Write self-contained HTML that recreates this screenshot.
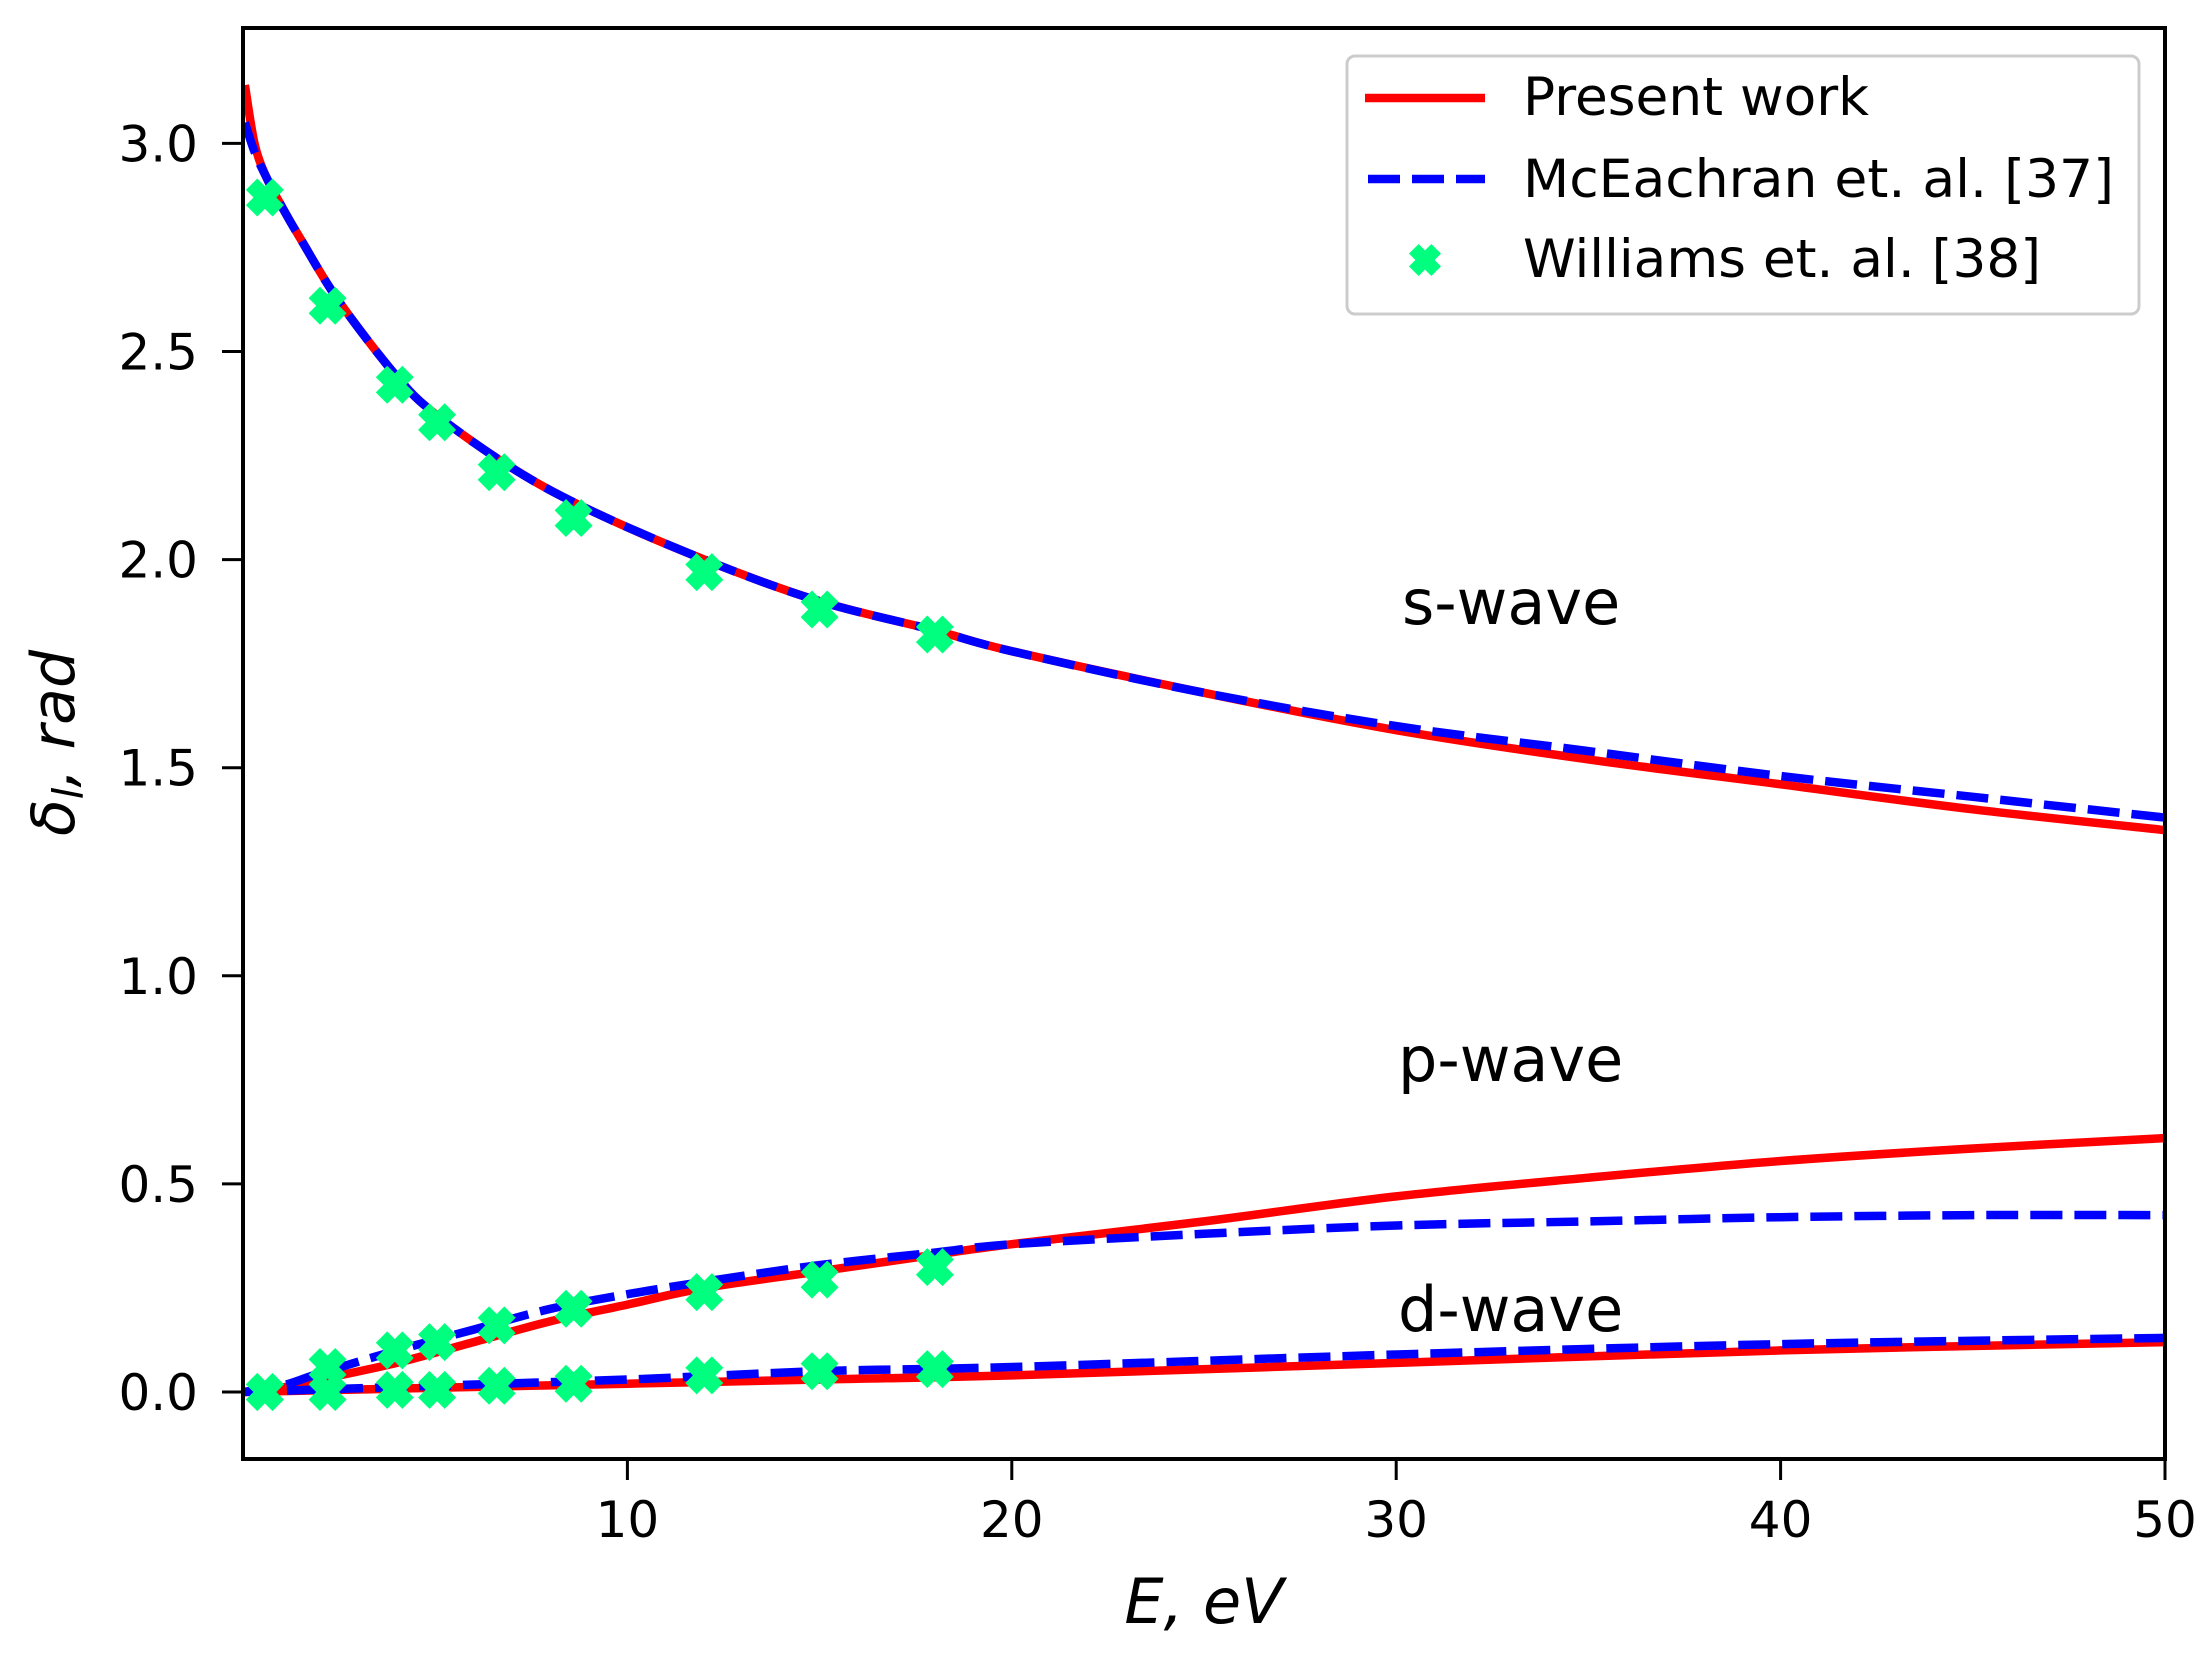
<!DOCTYPE html>
<html><head><meta charset="utf-8"><style>
html,body{margin:0;padding:0;background:#fff;}
svg{display:block;}
text{font-family:"DejaVu Sans","Liberation Sans",sans-serif;fill:#000;}
</style></head><body>
<svg id="chart" width="2211" height="1662" viewBox="0 0 2211 1662">
<rect x="0" y="0" width="2211" height="1662" fill="#fff"/>
<g id="plot"></g>
<g id="axes"></g>
<text x="1402" y="624" font-size="62">s-wave</text>
<text x="1398" y="1081" font-size="62">p-wave</text>
<text x="1398" y="1331" font-size="62">d-wave</text>
<text x="1204" y="1623" font-size="62" font-style="italic" text-anchor="middle">E, eV</text>
<text transform="translate(74,743) rotate(-90)" font-size="60" font-style="italic" text-anchor="middle">δ<tspan font-size="42" dy="9">l</tspan><tspan dy="-9">, rad</tspan></text>
<g>
<rect x="1347" y="56" width="792" height="258" rx="8" fill="#fff" stroke="#ccc" stroke-width="3"/>
<line x1="1365" y1="98" x2="1485" y2="98" stroke="#ff0000" stroke-width="8.5"/>
<text x="1523" y="115" font-size="53" textLength="346" lengthAdjust="spacingAndGlyphs">Present work</text>
<line x1="1368" y1="179" x2="1485" y2="179" stroke="#0000ff" stroke-width="8.5" stroke-dasharray="32,12"/>
<text x="1523" y="197" font-size="53" textLength="591" lengthAdjust="spacingAndGlyphs">McEachran et. al. [37]</text>
<g id="legmark"></g>
<text x="1523" y="277" font-size="53" textLength="518" lengthAdjust="spacingAndGlyphs">Williams et. al. [38]</text>
</g>
</svg>
<script>
const ticksX = [10, 20, 30, 40, 50];
const ticksY = [0.0, 0.5, 1.0, 1.5, 2.0, 2.5, 3.0];
const sE = [0.05, 0.3, 0.6, 1, 1.5, 2.5, 4, 5, 7, 9, 12, 15, 18, 20, 25, 30, 35, 40, 45, 50];
const sRed = [3.14, 3.0, 2.92, 2.85, 2.77, 2.62, 2.44, 2.35, 2.22, 2.12, 2.0, 1.9, 1.83, 1.78, 1.68, 1.59, 1.52, 1.46, 1.40, 1.35];
const sBlue = [3.05, 2.98, 2.92, 2.85, 2.77, 2.62, 2.44, 2.35, 2.22, 2.12, 2.0, 1.9, 1.83, 1.78, 1.68, 1.60, 1.54, 1.48, 1.43, 1.38];
const pE = [0, 1, 2, 4, 6, 8, 10, 12, 15, 18, 20, 25, 30, 35, 40, 45, 50];
const pRed = [0, 0.01, 0.03, 0.07, 0.12, 0.17, 0.21, 0.25, 0.29, 0.33, 0.355, 0.41, 0.47, 0.515, 0.555, 0.585, 0.61];
const pBlue = [0, 0.015, 0.045, 0.10, 0.15, 0.20, 0.235, 0.265, 0.305, 0.335, 0.355, 0.38, 0.40, 0.41, 0.42, 0.425, 0.425];
const dE = [0, 5, 10, 15, 20, 30, 40, 50];
const dRed = [0, 0.01, 0.02, 0.03, 0.04, 0.07, 0.10, 0.12];
const dBlue = [0, 0.015, 0.03, 0.05, 0.06, 0.09, 0.115, 0.13];
const wE = [0.57, 2.2, 3.95, 5.05, 6.6, 8.6, 12, 15, 18];
const wS = [2.87, 2.61, 2.42, 2.33, 2.21, 2.10, 1.97, 1.88, 1.82];
const wP = [0.0, 0.06, 0.10, 0.12, 0.16, 0.20, 0.24, 0.27, 0.30];
const wD = [0.0, 0.0, 0.005, 0.005, 0.015, 0.02, 0.04, 0.05, 0.055];

const NS = 'http://www.w3.org/2000/svg';
const X0 = 243, X1 = 2165, Y0 = 1459, Y1 = 28;
function sx(v){ return X0 + v * (X1 - X0) / 50; }
function sy(v){ return 1392 - v * 416.2; }
function mk(tag, attrs, parent){ const e = document.createElementNS(NS, tag); for (const k in attrs) e.setAttribute(k, attrs[k]); parent.appendChild(e); return e; }
const plot = document.getElementById('plot');
const axes = document.getElementById('axes');
const cp = mk('clipPath', {id:'clip'}, plot);
mk('rect', {x:X0, y:Y1, width:X1-X0, height:Y0-Y1}, cp);
const inner = mk('g', {'clip-path':'url(#clip)'}, plot);



function smoothPath(xs, ys){
  const P = xs.map((x,i)=>[sx(x), sy(ys[i])]);
  let d = 'M' + P[0][0].toFixed(1) + ',' + P[0][1].toFixed(1);
  for (let i = 0; i < P.length - 1; i++){
    const p0 = P[Math.max(0,i-1)], p1 = P[i], p2 = P[i+1], p3 = P[Math.min(P.length-1,i+2)];
    const c1 = [p1[0]+(p2[0]-p0[0])/6, p1[1]+(p2[1]-p0[1])/6];
    const c2 = [p2[0]-(p3[0]-p1[0])/6, p2[1]-(p3[1]-p1[1])/6];
    d += ' C' + c1.map(v=>v.toFixed(1)).join(',') + ' ' + c2.map(v=>v.toFixed(1)).join(',') + ' ' + p2.map(v=>v.toFixed(1)).join(',');
  }
  return d;
}
function line(xs, ys, color, dashed, name){
  const p = mk('path', {d:smoothPath(xs, ys), fill:'none', stroke:color, 'stroke-width':8.5, 'stroke-linejoin':'round'}, inner);
  if (dashed) p.setAttribute('stroke-dasharray', '32,12');
  
  
}
line(sE, sRed, '#ff0000', false, 's-wave-present-line');
line(pE, pRed, '#ff0000', false, 'p-wave-present-line');
line(dE, dRed, '#ff0000', false, 'd-wave-present-line');
line(sE, sBlue, '#0000ff', true, 's-wave-mceachran-line');
line(pE, pBlue, '#0000ff', true, 'p-wave-mceachran-line');
line(dE, dBlue, '#0000ff', true, 'd-wave-mceachran-line');

function xMarker(cx, cy, r, parent){
  const a = r*0.4;
  const pts = [[-a,-r],[0,-r+a],[a,-r],[r,-a],[r-a,0],[r,a],[a,r],[0,r-a],[-a,r],[-r,a],[-r+a,0],[-r,-a]];
  return mk('polygon', {points: pts.map(p=>(cx+p[0]).toFixed(1)+','+(cy+p[1]).toFixed(1)).join(' '), fill:'#00ff7f'}, parent);
}
[[wS,'s'],[wP,'p'],[wD,'d']].forEach(([arr,n])=>{
  arr.forEach((v,i)=>{
    const m = xMarker(sx(wE[i]), sy(v), 19, plot);
    
    
  });
});
const lm = xMarker(1425, 260, 16, document.getElementById('legmark'));



const frame = mk('rect', {x:X0, y:Y1, width:X1-X0, height:Y0-Y1, fill:'none', stroke:'#000', 'stroke-width':4}, axes);


ticksX.forEach(t=>{
  const l = mk('line', {x1:sx(t), x2:sx(t), y1:Y0, y2:Y0+21, stroke:'#000', 'stroke-width':3}, axes);
  
  
  const tx = mk('text', {x:sx(t), y:1537, 'font-size':50, 'text-anchor':'middle'}, axes);
  tx.textContent = String(t);
  
  
});
ticksY.forEach(t=>{
  const l = mk('line', {x1:X0-21, x2:X0, y1:sy(t), y2:sy(t), stroke:'#000', 'stroke-width':3}, axes);
  
  
  const tx = mk('text', {x:198, y:sy(t)+18, 'font-size':50, 'text-anchor':'end'}, axes);
  tx.textContent = t.toFixed(1);
  
  
});
</script>
</body></html>
